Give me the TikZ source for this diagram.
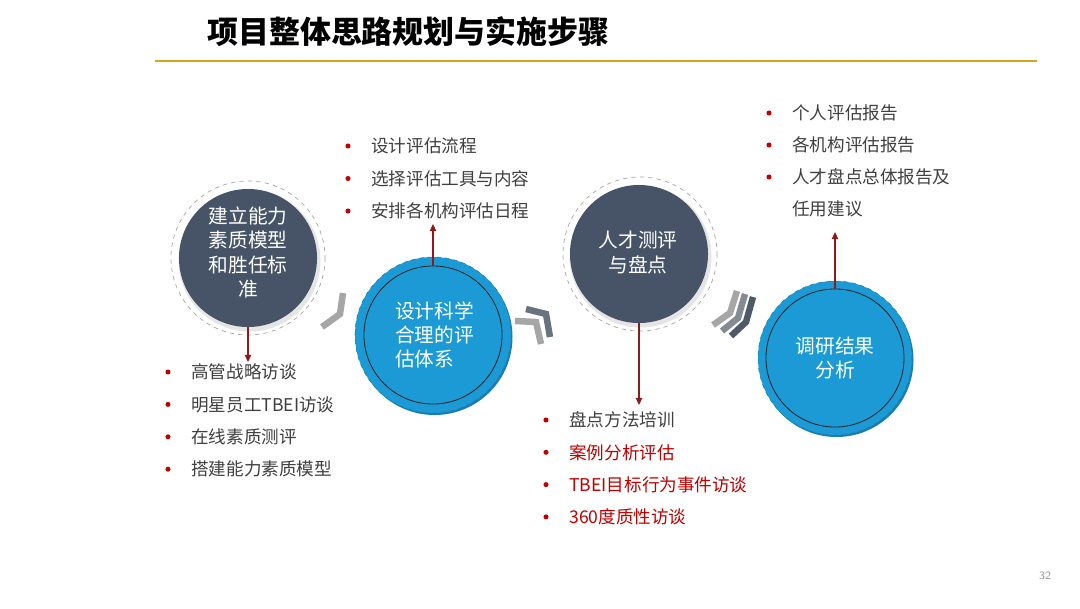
\documentclass[tikz,border=0pt]{standalone}
\usepackage{fontspec}
\newfontfamily\cjk{Noto Sans CJK SC}
\usetikzlibrary{arrows.meta,positioning,calc}
\definecolor{slate}{HTML}{475467}
\definecolor{sky}{HTML}{1C9AD6}
\definecolor{skyedge}{HTML}{1A7CB0}
\definecolor{gold}{HTML}{D9A521}
\definecolor{ink}{HTML}{3F3F3F}
\definecolor{crimson}{HTML}{C00000}
\definecolor{wine}{HTML}{8E1B1B}
\definecolor{chevA}{HTML}{A6A6A6}
\definecolor{chevB}{HTML}{858B95}
\definecolor{chevC}{HTML}{4F5A68}
\tikzset{darkball/.style={circle,fill=slate,minimum size=3.45cm,inner sep=0pt},
  blueball/.style={circle,draw=black!85,line width=.6pt,minimum size=3.45cm,inner sep=0pt},
  balltext/.style={text=white,font=\cjk\fontsize{14}{17.2}\selectfont,inner sep=0pt},
  item/.style={anchor=west,font=\cjk\fontsize{12.5}{15}\selectfont,text=ink,inner sep=0pt},
  hot/.style={item,text=crimson},
  dot/.style={circle,fill=crimson,inner sep=0pt,minimum size=3.6pt},
  lead/.style={draw=wine,line width=.8pt,-{Triangle[length=5pt,width=4.5pt]}},
  chev/.style={line width=4.6pt,line join=miter}}

\begin{document}
\begin{tikzpicture}[x=.025cm,y=-.025cm]
\useasboundingbox (0,0) rectangle (1080,608);
% title and rule
\node[anchor=west,font=\cjk\bfseries\fontsize{22}{26}\selectfont,inner sep=0pt] (title) at (207,32) {项目整体思路规划与实施步骤};
\draw[gold,line width=1.5pt] (155,61) -- (1037,61);
% step 1
\fill[white,draw=gray!70,dashed,line width=.5pt] (248,258) circle[radius=77];
\fill[gray!20] (249.5,260.5) circle[radius=71];
\node[darkball] (c1) at (248,258) {};
\node[balltext,align=center] (t1) at (248,252.5) {建立能力\\素质模型\\和胜任标\\准};
% step 2
\fill[skyedge] (434.5,337) circle[radius=78];
\fill[sky,draw=skyedge,dashed,line width=.4pt] (433,335) circle[radius=78];
\node[blueball] (c2) at (433,335) {};
\node[balltext,align=left] (t2) at (434.5,335) {设计科学\\合理的评\\估体系};
% step 3
\fill[white,draw=gray!70,dashed,line width=.5pt] (640,254) circle[radius=77];
\fill[gray!20] (640.5,256.5) circle[radius=71];
\node[darkball] (c3) at (639,254) {};
\node[balltext,align=center] (t3) at (638,252.5) {人才测评\\与盘点};
% step 4
\fill[skyedge] (836.5,360) circle[radius=77];
\fill[sky,draw=skyedge,dashed,line width=.4pt] (835,358) circle[radius=77];
\node[blueball] (c4) at (835,358) {};
\node[balltext,align=center] (t4) at (835,358) {调研结果\\分析};
% chevrons
\draw[chev,chevA] (343,293) -- (340,314) -- (322,327);
\draw[chev,chevC!85] (526,309) -- (546,314) -- (550,337);
\draw[chev,chevA] (515,321) -- (536,322) -- (541,344);
\draw[chev,chevA] (737,291) -- (730,313) -- (713,325);
\draw[chev,chevB] (745,294) -- (738,318) -- (722,331);
\draw[chev,chevC] (753,297) -- (746,322) -- (731,336);
% leads
\coordinate (e1) at (248,362);
\coordinate (e2) at (433,224);
\coordinate (e3) at (639,405);
\coordinate (e4) at (835,232);
\draw[lead] (c1.south) -- (e1);
\draw[lead] (c2.north) -- (e2);
\draw[lead] (c3.south) -- (e3);
\draw[lead] (c4.north) -- (e4);
% lists
\foreach \txt [count=\i] in {高管战略访谈,明星员工TBEI访谈,在线素质测评,搭建能力素质模型}{
  \node[dot] (d1-\i) at (168,372+32.4*\i-32.4) {};
  \node[item] (l1-\i) at (191,372+32.4*\i-32.4) {\txt};}
\foreach \txt [count=\i] in {设计评估流程,选择评估工具与内容,安排各机构评估日程}{
  \node[dot] (d2-\i) at (348,146+32.5*\i-32.5) {};
  \node[item] (l2-\i) at (371,146+32.5*\i-32.5) {\txt};}
\node[dot] (d3-1) at (546,420) {};
\node[item] (l3-1) at (569,420) {盘点方法培训};
\foreach \txt [count=\i from 2] in {案例分析评估,TBEI目标行为事件访谈,360度质性访谈}{
  \node[dot] (d3-\i) at (546,420+32.3*\i-32.3) {};
  \node[hot] (l3-\i) at (569,420+32.3*\i-32.3) {\txt};}
\foreach \txt [count=\i] in {个人评估报告,各机构评估报告,人才盘点总体报告及}{
  \node[dot] (d4-\i) at (769,113+32*\i-32) {};
  \node[item] (l4-\i) at (792,113+32*\i-32) {\txt};}
\node[item] (l4-4) at (792,209) {任用建议};
% page number
\node[font=\sffamily\fontsize{8}{9}\selectfont,text=gray!80] (pg) at (1045,576) {32};
\end{tikzpicture}
\end{document}
